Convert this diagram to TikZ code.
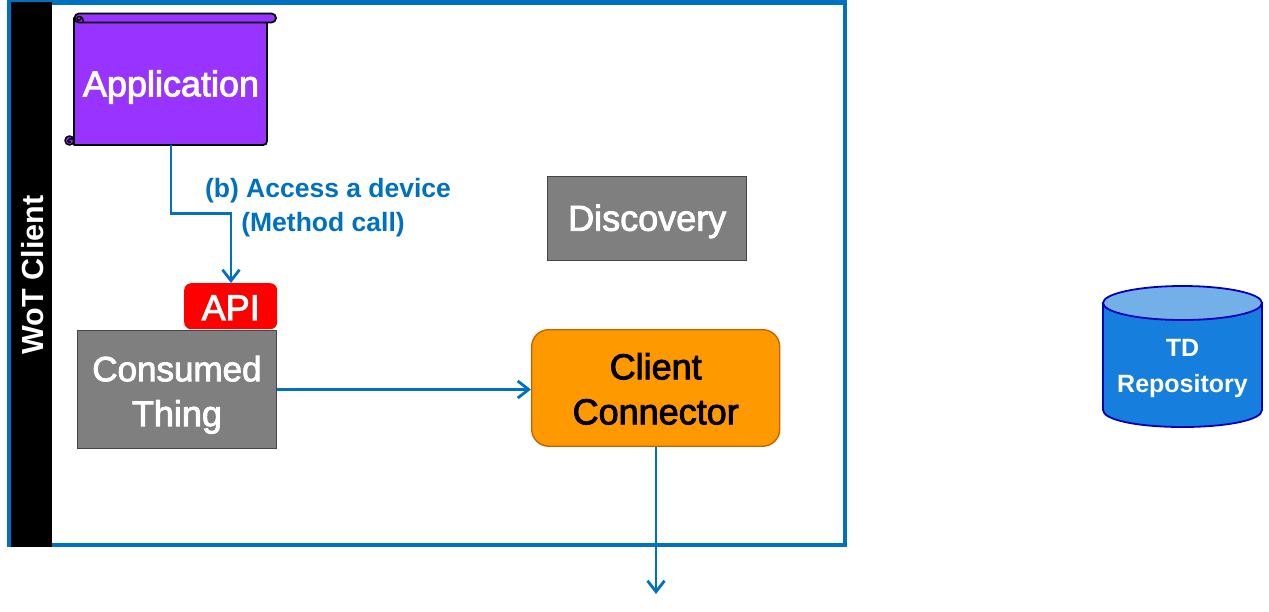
\documentclass[tikz,border=0pt]{standalone}
\usepackage{fontspec}
\setmainfont{Liberation Sans}
\newfontfamily\heavy[FakeBold=2.5]{Liberation Sans}
\definecolor{wotblue}{RGB}{0,112,192}
\definecolor{apppurple}{RGB}{153,51,255}
\definecolor{thinggray}{RGB}{127,127,127}
\definecolor{edgegray}{RGB}{70,70,70}
\definecolor{connorange}{RGB}{255,153,0}
\definecolor{connedge}{RGB}{200,100,0}
\definecolor{repoblue}{RGB}{22,126,220}
\definecolor{repotop}{RGB}{115,176,232}
\definecolor{repoedge}{RGB}{0,0,190}
\newcommand{\px}[2]{\fontsize{#1}{#2}\selectfont}
\newcommand{\lift}[1]{\rule{0pt}{#1pt}}
\usetikzlibrary{arrows.meta}
\tikzset{
  wire/.style={draw=wotblue,line width=2.8pt,-{Straight Barb[length=11pt,width=17pt,line width=2.8pt]}},
  graybox/.style={draw=edgegray,line width=1.4pt,fill=thinggray,text=white,align=center,inner sep=0pt,anchor=north west,font=\heavy\px{36}{45}},
  scrollpart/.style={draw=black,line width=1.8pt,fill=apppurple,line join=round},
  curl/.style={draw=black,line width=1.5pt},
  lbl/.style={text=wotblue,font=\bfseries\px{26.5}{26},inner sep=0pt}
}
\begin{document}
\begin{tikzpicture}[x=1pt,y=-1pt]
\useasboundingbox (0,0) rectangle (1269,611);
% frame
\draw[wotblue,line width=4.6pt,fill=white,line join=miter] (9,2.5) rectangle (845,545);
\fill[black] (11,2) rectangle (52,547);
\node[rotate=90,text=white,font=\bfseries\px{30.5}{30},inner sep=0pt] (client) at (33,275) {WoT Client};
% scroll
\draw[scrollpart] (74,18) -- (74,145) -- (263,145) .. controls (265.5,145) and (267,143.5) .. (267,141) -- (267,18) -- cycle;
\draw[scrollpart,rounded corners=4.5pt] (74.5,13.5) rectangle (276,22.5);
\draw[curl] (83,22.5) .. controls (84,15.5) and (77,15) .. (77,18.5) .. controls (77,20.5) and (81,20.5) .. (81,18.5);
\draw[scrollpart,line width=1.6pt] (69.5,140.5) circle[radius=4.5];
\draw[curl] (74,140) .. controls (71,137.5) and (68,139) .. (68,141) .. controls (68,142.5) and (70.5,143) .. (71,141.5);
\node[text=white,font=\heavy\px{36}{36},inner sep=0pt] (app) at (171,87) {Application};
% other nodes
\node[graybox,minimum width=199pt,minimum height=84.5pt] (disc) at (547,175.5) {\lift{32}Discovery};
\node[graybox,minimum width=198.5pt,minimum height=117.5pt] (thing) at (77,330) {\lift{36}{\heavy\px{35}{45}Consumed}\\Thing};
\node[fill=red,rounded corners=7pt,minimum width=93pt,minimum height=46pt,inner sep=0pt,text=white,font=\heavy\px{36}{36},anchor=north west] (api) at (184,283) {\lift{28}API};
\node[draw=connedge,line width=1.4pt,fill=connorange,rounded corners=17pt,minimum width=248pt,minimum height=116.5pt,inner sep=0pt,align=center,font=\heavy\px{36}{45},anchor=north west] (conn) at (531,329) {\lift{28}Client\\Connector};
% repository
\draw[repoedge,line width=1.8pt,fill=repoblue] (1103,303) -- (1103,410) .. controls (1103,420) and (1138,427) .. (1182.5,427) .. controls (1227,427) and (1262,420) .. (1262,410) -- (1262,303) -- cycle;
\draw[repoedge,line width=1.8pt,fill=repotop] (1182.5,303) ellipse[x radius=79.5,y radius=17];
\node[text=white,font=\bfseries\px{25}{36},align=center,inner sep=0pt] (repo) at (1182.5,368.5) {TD\\Repository};
% connectors
\coordinate (appb) at (171,145);
\coordinate (free) at (656,594);
\draw[wire] (appb) |- (231,213.5) -- (api.north -| 231,283);
\draw[wire] (thing.east |- 0,389.5) -- (conn.west |- 0,389.5);
\draw[wire] (conn.south -| 656,0) -- (free);
% labels
\node[lbl] (la) at (328,190.5) {(b) Access a device};
\node[lbl] (lb) at (323,224.5) {(Method call)};
\end{tikzpicture}
\end{document}
